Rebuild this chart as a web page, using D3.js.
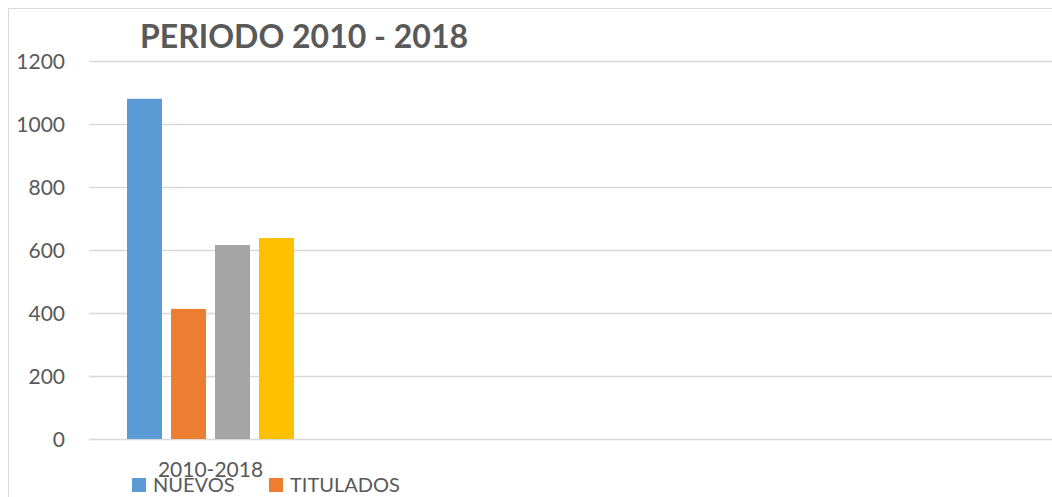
<!DOCTYPE html>
<html>
<head>
<meta charset="utf-8">
<script src="https://cdn.jsdelivr.net/npm/d3@7"></script>
<style>
  html, body { margin: 0; padding: 0; background: #fff; overflow: hidden; }
  svg { display: block; }
  text { font-family: "Lato", "Liberation Sans", sans-serif; fill: #595959; }
</style>
</head>
<body>
<svg id="chart" width="1052" height="497"></svg>
<script>
const title = "PERIODO 2010 - 2018";
const categories = ["2010-2018"];
const slotCount = 4;
const seriesNames = ["NUEVOS", "TITULADOS", "SERIE 3", "SERIE 4"];
const seriesColors = ["#5B9BD5", "#ED7D31", "#A5A5A5", "#FFC000"];
const seriesValues = [[1080], [413], [616], [638]];
const legendShown = ["NUEVOS", "TITULADOS"];
const yTicks = [0, 200, 400, 600, 800, 1000, 1200];

(function () {
const svg = d3.select("#chart");
const W = 1052, H = 497;

// chart area border
svg.append("rect").attr("x", 8.5).attr("y", 8.5).attr("width", W + 10).attr("height", H + 10)
  .attr("fill", "#fff").attr("stroke", "#d9d9d9").attr("stroke-width", 1);

const plotLeft = 89, plotTop = 61, plotBottom = 439;
const y = d3.scaleLinear().domain([0, 1200]).range([plotBottom, plotTop]);
const x0 = d3.scaleBand().domain(d3.range(slotCount)).range([plotLeft, plotLeft + 243 * slotCount]).padding(0);
const groupW = 167;
const x1 = d3.scaleBand().domain(seriesNames).range([0, groupW]).paddingInner(9 / 44).paddingOuter(0);

// gridlines
const yAxis = d3.axisLeft(y).tickValues(yTicks).tickFormat(d3.format("d"))
  .tickSize(-(W - plotLeft + 10)).tickPadding(24);
const gAxis = svg.append("g").attr("transform", `translate(${plotLeft},0)`).call(yAxis);
gAxis.select(".domain").remove();
gAxis.selectAll(".tick line").attr("stroke", "#d9d9d9").attr("stroke-width", 1.6);
gAxis.selectAll(".tick text").attr("font-size", 21).attr("fill", "#595959")
  .style("font-family", "Lato, 'Liberation Sans', sans-serif").attr("dy", "0.35em");

// bars
categories.forEach((cat, ci) => {
  const gx = x0(ci) + (x0.bandwidth() - groupW) / 2;
  const g = svg.append("g").attr("transform", `translate(${gx},0)`);
  g.selectAll("rect").data(seriesNames.map((s, si) => ({ s, v: seriesValues[si][ci], c: seriesColors[si] })))
    .join("rect")
    .attr("x", d => x1(d.s))
    .attr("width", x1.bandwidth())
    .attr("y", d => y(d.v))
    .attr("height", d => y(0) - y(d.v))
    .attr("fill", d => d.c);
  svg.append("text").attr("x", x0(ci) + x0.bandwidth() / 2).attr("y", 477)
    .attr("text-anchor", "middle").attr("font-size", 21).text(cat);
});

// title
svg.append("text").attr("x", 304).attr("y", 48).attr("text-anchor", "middle")
  .attr("font-size", 32).attr("font-weight", "bold").text(title);

// legend
const legendX = [132, 269];
legendShown.forEach((name, i) => {
  const si = seriesNames.indexOf(name);
  svg.append("rect").attr("x", legendX[i]).attr("y", 478).attr("width", 14).attr("height", 14)
    .attr("fill", seriesColors[si]);
  svg.append("text").attr("x", legendX[i] + 21).attr("y", 492).attr("font-size", 20).text(name);
});
})();
</script>
</body>
</html>
